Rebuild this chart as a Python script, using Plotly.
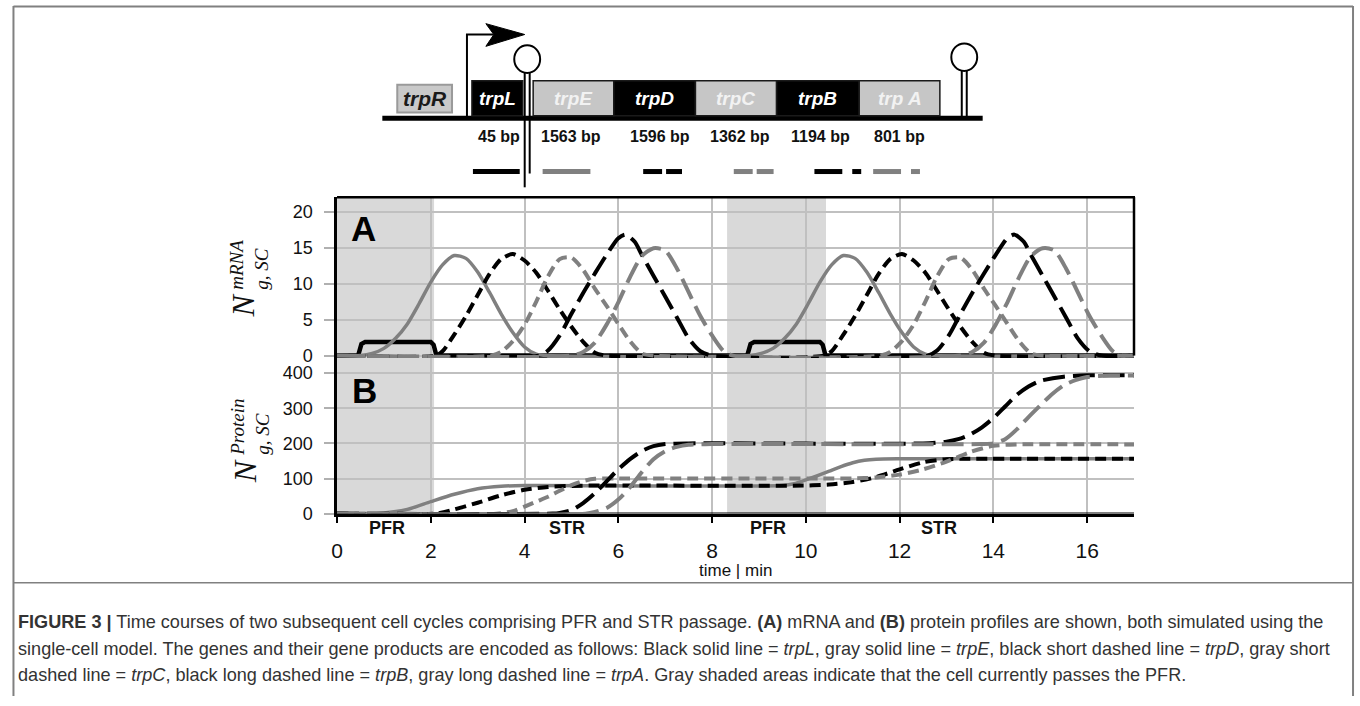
import plotly.graph_objects as go

W, H = 1360, 706
def fx(x): return x / W
def fy(y): return 1 - y / H

BLACK = "#000000"
GRAY = "#808080"
SHADE = "#d9d9d9"
GRID = "#c0c0c0"

# ---------------- data ----------------
# panel A: mRNA
trpL_A_t = [0, 0.45, 0.52, 0.6, 1.0, 1.5, 2.0, 2.06, 2.12, 8.75, 8.82, 8.9, 9.3, 9.8, 10.3, 10.36, 10.42, 17]
trpL_A_y = [0, 0, 1.6, 1.9, 1.9, 1.9, 1.9, 1.5, 0, 0, 1.6, 1.9, 1.9, 1.9, 1.9, 1.5, 0, 0]

trpE_A_t = [0, 0.5, 0.75, 1.0, 1.25, 1.5, 1.75, 2.0, 2.25, 2.5, 2.75, 3.0, 3.25, 3.5, 3.75, 4.0, 4.25, 4.5,
            8.8, 9.05, 9.3, 9.55, 9.8, 10.05, 10.3, 10.55, 10.8, 11.05, 11.3, 11.55, 11.8, 12.05, 12.3, 12.55, 12.8, 17]
trpE_A_y = [0, 0, 0.3, 1.0, 2.4, 4.4, 7.2, 10.2, 12.6, 13.9, 13.5, 11.6, 8.8, 5.8, 3.2, 1.2, 0.2, 0,
            0, 0.3, 1.0, 2.4, 4.4, 7.2, 10.2, 12.6, 13.9, 13.5, 11.6, 8.8, 5.8, 3.2, 1.2, 0.2, 0, 0]

trpD_A_t = [0, 2.1, 2.25, 2.5, 2.75, 3.0, 3.25, 3.5, 3.75, 4.0, 4.25, 4.5, 4.75, 5.0, 5.25, 5.5, 5.75,
            10.4, 10.55, 10.8, 11.05, 11.3, 11.55, 11.8, 12.05, 12.3, 12.55, 12.8, 13.05, 13.3, 13.55, 13.8, 14.05, 17]
trpD_A_y = [0, 0, 0.6, 2.9, 5.5, 8.4, 11.3, 13.4, 14.1, 13.2, 11.5, 9.0, 6.4, 4.0, 1.9, 0.4, 0,
            0, 0.6, 2.9, 5.5, 8.4, 11.3, 13.4, 14.1, 13.2, 11.5, 9.0, 6.4, 4.0, 1.9, 0.4, 0, 0]

trpC_A_t = [0, 3.3, 3.5, 3.75, 4.0, 4.25, 4.5, 4.75, 5.0, 5.25, 5.5, 5.75, 6.0, 6.25, 6.5, 6.75,
            11.6, 11.8, 12.05, 12.3, 12.55, 12.8, 13.05, 13.3, 13.55, 13.8, 14.05, 14.3, 14.55, 14.8, 15.05, 17]
trpC_A_y = [0, 0, 0.5, 2.0, 4.3, 7.5, 11.0, 13.4, 13.6, 11.9, 9.3, 6.9, 4.4, 2.0, 0.3, 0,
            0, 0.5, 2.0, 4.3, 7.5, 11.0, 13.4, 13.6, 11.9, 9.3, 6.9, 4.4, 2.0, 0.3, 0, 0]

trpB_A_t = [0, 4.3, 4.5, 4.75, 5.0, 5.25, 5.5, 5.75, 6.0, 6.15, 6.35, 6.5, 6.75, 7.0, 7.25, 7.5, 7.75, 8.0,
            12.6, 12.8, 13.05, 13.3, 13.55, 13.8, 14.05, 14.3, 14.45, 14.65, 14.8, 15.05, 15.3, 15.55, 15.8, 16.05, 16.3, 17]
trpB_A_y = [0, 0, 0.7, 2.8, 5.8, 8.7, 11.4, 14.0, 16.3, 16.8, 15.8, 14.0, 11.1, 8.2, 5.3, 2.4, 0.6, 0,
            0, 0.7, 2.8, 5.8, 8.7, 11.4, 14.0, 16.3, 16.8, 15.8, 14.0, 11.1, 8.2, 5.3, 2.4, 0.6, 0, 0]

trpA_A_t = [0, 5.0, 5.25, 5.5, 5.75, 6.0, 6.25, 6.5, 6.75, 7.0, 7.25, 7.5, 7.75, 8.0, 8.25, 8.45,
            13.3, 13.55, 13.8, 14.05, 14.3, 14.55, 14.8, 15.05, 15.3, 15.55, 15.8, 16.05, 16.3, 16.55, 16.75, 17]
trpA_A_y = [0, 0, 0.5, 1.8, 4.3, 7.4, 10.9, 13.8, 14.9, 14.6, 12.1, 8.8, 5.5, 2.8, 0.6, 0,
            0, 0.5, 1.8, 4.3, 7.4, 10.9, 13.8, 14.9, 14.6, 12.1, 8.8, 5.5, 2.8, 0.6, 0, 0]

# panel B: protein
trpL_B_t = [0, 17]
trpL_B_y = [0, 0]
trpE_B_t = [0, 0.5, 1.0, 1.5, 2.0, 2.5, 3.0, 3.5, 4.0, 9.5, 9.75, 10.0, 10.25, 10.5, 10.75, 11.0, 11.25, 11.5, 12.0, 17]
trpE_B_y = [0, 0, 2, 12, 34, 55, 71, 78, 80, 80, 85, 96, 108, 121, 134, 145, 152, 155, 156, 156]
trpD_B_t = [0, 2.1, 2.5, 3.0, 3.5, 4.0, 4.5, 5.0, 5.5, 10.0, 10.5, 11.0, 11.5, 12.0, 12.5, 13.0, 13.5, 17]
trpD_B_y = [0, 0, 12, 31, 52, 68, 76, 79, 80, 80, 83, 90, 104, 126, 146, 155, 156, 156]
trpC_B_t = [0, 3.4, 3.75, 4.0, 4.25, 4.5, 4.75, 5.0, 5.25, 5.5, 6.0, 10.5, 11.0, 11.5, 12.0, 12.5, 13.0, 13.5, 14.0, 14.5, 17]
trpC_B_y = [0, 0, 7, 20, 34, 48, 65, 81, 93, 99, 100, 100, 100, 103, 111, 126, 148, 175, 193, 197, 197]
trpB_B_t = [0, 4.6, 4.75, 5.0, 5.25, 5.5, 5.75, 6.0, 6.25, 6.5, 6.75, 7.0, 7.5, 12.5, 13.0, 13.25, 13.5, 13.75,
            14.0, 14.25, 14.5, 14.75, 15.0, 15.5, 16.0, 17]
trpB_B_y = [0, 0, 2, 10, 30, 58, 92, 126, 155, 178, 192, 198, 200, 200, 205, 212, 225, 245,
            272, 305, 338, 362, 378, 390, 394, 394]
trpA_B_t = [0, 5.3, 5.5, 5.75, 6.0, 6.25, 6.5, 6.75, 7.0, 7.25, 7.5, 8.0, 13.75, 14.0, 14.25, 14.5, 14.75,
            15.0, 15.25, 15.5, 15.75, 16.0, 16.5, 17]
trpA_B_y = [0, 0, 5, 16, 40, 75, 118, 155, 178, 190, 196, 198, 198, 200, 212, 240, 275,
            308, 340, 365, 380, 389, 393, 393]

pfr_start = [0, 8.32]
pfr_end = [2.07, 10.43]
phase_labels = ["PFR", "STR", "PFR", "STR"]
phase_label_t = [1.07, 4.9, 9.2, 12.84]

x_ticks = [0, 2, 4, 6, 8, 10, 12, 14, 16]
yA_ticks = [0, 5, 10, 15, 20]
yB_ticks = [0, 100, 200, 300, 400]

genes = ["trpL", "trpE", "trpD", "trpC", "trpB", "trp A"]
gene_bp = ["45 bp", "1563 bp", "1596 bp", "1362 bp", "1194 bp", "801 bp"]

# ---------------- layout geometry ----------------
X0P, X1P = 332.5, 1133
A_TOP, AB, B_BOT = 200, 360.7, 521
A_RANGE = [-0.35, 22]
A_BOT = AB + 0.35 * (AB - A_TOP) / 22

fig = go.Figure()

SOLID = "solid"
SHORT = "11px,6px"
LONG = "22px,8px"
series_A = [
    (trpL_A_t, trpL_A_y, BLACK, SOLID, 4.5, "linear"),
    (trpE_A_t, trpE_A_y, GRAY, SOLID, 3.5, "spline"),
    (trpD_A_t, trpD_A_y, BLACK, SHORT, 4, "spline"),
    (trpC_A_t, trpC_A_y, GRAY, SHORT, 4, "spline"),
    (trpB_A_t, trpB_A_y, BLACK, LONG, 4, "spline"),
    (trpA_A_t, trpA_A_y, GRAY, LONG, 4, "spline"),
]
series_B = [
    (trpL_B_t, trpL_B_y, BLACK, SOLID, 2, "linear"),
    (trpE_B_t, trpE_B_y, GRAY, SOLID, 3.5, "spline"),
    (trpD_B_t, trpD_B_y, BLACK, SHORT, 4, "spline"),
    (trpC_B_t, trpC_B_y, GRAY, SHORT, 4, "spline"),
    (trpB_B_t, trpB_B_y, BLACK, LONG, 4, "spline"),
    (trpA_B_t, trpA_B_y, GRAY, LONG, 4, "spline"),
]
for t, y, c, d, w, s in series_A:
    assert len(t) == len(y)
    fig.add_trace(go.Scatter(x=t, y=y, mode="lines", xaxis="x2", yaxis="y2",
                             line=dict(color=c, dash=d, width=w, shape=s, smoothing=0.7),
                             showlegend=False, hoverinfo="skip"))
for t, y, c, d, w, s in series_B:
    assert len(t) == len(y)
    fig.add_trace(go.Scatter(x=t, y=y, mode="lines", xaxis="x", yaxis="y",
                             line=dict(color=c, dash=d, width=w, shape=s, smoothing=0.7),
                             showlegend=False, hoverinfo="skip"))

tickfont_y = dict(family="Liberation Sans, Arial", size=18, color="#111")
tickfont_x = dict(family="Liberation Sans, Arial", size=21, color="#111")

fig.update_layout(
    width=W, height=H, margin=dict(l=0, r=0, t=0, b=0),
    paper_bgcolor="white", plot_bgcolor="rgba(0,0,0,0)",
    xaxis=dict(domain=[fx(X0P), fx(X1P)], range=[0, 17], anchor="y",
               tickvals=x_ticks, showgrid=True, gridcolor=GRID, gridwidth=2,
               showline=True, linecolor=BLACK, linewidth=2.5, ticks="outside",
               ticklen=7, tickwidth=1.5, tickcolor=BLACK, tickfont=tickfont_x,
               zeroline=False, ticklabelstandoff=9),
    xaxis2=dict(domain=[fx(X0P), fx(X1P)], range=[0, 17], anchor="y2", matches="x",
                tickvals=x_ticks, showgrid=True, gridcolor=GRID, gridwidth=2,
                showticklabels=False, showline=False, zeroline=False, ticks=""),
    yaxis=dict(domain=[fy(B_BOT), fy(AB)], range=[0, 450], anchor="x",
               tickvals=yB_ticks, showgrid=True, gridcolor=GRID, gridwidth=2,
               showline=True, linecolor=BLACK, linewidth=2.5, ticks="outside",
               ticklen=10, tickwidth=2, tickcolor="#b0b0b0", tickfont=tickfont_y,
               zeroline=False, ticklabelstandoff=8),
    yaxis2=dict(domain=[fy(A_BOT), fy(A_TOP)], range=A_RANGE, anchor="x2",
                tickvals=yA_ticks, showgrid=True, gridcolor=GRID, gridwidth=2,
                showline=True, linecolor=BLACK, linewidth=2.5, ticks="outside",
                ticklen=10, tickwidth=2, tickcolor="#b0b0b0", tickfont=tickfont_y,
                zeroline=False, ticklabelstandoff=8),
)

shapes = []
for s0, s1 in zip(pfr_start, pfr_end):
    for yr in ["y domain", "y2 domain"]:
        shapes.append(dict(type="rect", xref="x", yref=yr, x0=s0, x1=s1, y0=0, y1=1,
                           fillcolor=SHADE, line=dict(width=0), layer="below"))
# panel A frame (top & right)
shapes.append(dict(type="line", xref="paper", yref="paper", x0=fx(X0P), x1=fx(X1P + 1),
                   y0=fy(A_TOP), y1=fy(A_TOP), line=dict(color=BLACK, width=2.5)))
shapes.append(dict(type="line", xref="paper", yref="paper", x0=fx(X1P), x1=fx(X1P),
                   y0=fy(A_TOP), y1=fy(AB), line=dict(color=BLACK, width=2.5)))

# outer figure frame
FR = "#808080"
shapes += [
    dict(type="line", xref="paper", yref="paper", x0=fx(7.5), x1=fx(7.5), y0=fy(6), y1=fy(706), line=dict(color=FR, width=2)),
    dict(type="line", xref="paper", yref="paper", x0=fx(1353), x1=fx(1353), y0=fy(6), y1=fy(706), line=dict(color=FR, width=2)),
    dict(type="line", xref="paper", yref="paper", x0=fx(7.5), x1=fx(1353), y0=fy(6.5), y1=fy(6.5), line=dict(color=FR, width=2)),
    dict(type="line", xref="paper", yref="paper", x0=fx(7.5), x1=fx(1353), y0=fy(591), y1=fy(591), line=dict(color=FR, width=1.5)),
]

# ---------------- gene diagram ----------------
def rect(x0, x1, y0, y1, fill, lc, lw):
    return dict(type="rect", xref="paper", yref="paper", x0=fx(x0), x1=fx(x1), y0=fy(y1), y1=fy(y0),
                fillcolor=fill, line=dict(color=lc, width=lw))
def pline(x0, y0, x1, y1, c=BLACK, w=2):
    return dict(type="line", xref="paper", yref="paper", x0=fx(x0), x1=fx(x1), y0=fy(y0), y1=fy(y1),
                line=dict(color=c, width=w))

# baseline
shapes.append(pline(378, 120, 981, 120, BLACK, 5))
# trpR box
shapes.append(rect(393, 448, 86, 114, "#c9c9c9", "#9a9a9a", 2))
# promoter arrow
shapes.append(pline(463, 120, 463, 35, BLACK, 2))
shapes.append(pline(462, 35, 490, 35, BLACK, 2))
ah = [(482, 24), (521, 35), (482, 47), (490, 35)]
path = "M " + " L ".join(f"{fx(a)},{fy(b)}" for a, b in ah) + " Z"
shapes.append(dict(type="path", xref="paper", yref="paper", path=path, fillcolor=BLACK, line=dict(color=BLACK, width=1)))

box_x = [468, 519, 529.5, 610.5, 692.5, 774, 857, 938]
gene_fill = [BLACK, "#c6c6c6", BLACK, "#c6c6c6", BLACK, "#c6c6c6"]
gene_txt = ["white", "#f2f2f2", "white", "#f2f2f2", "white", "#f2f2f2"]
gx = [(box_x[0], box_x[1])] + [(box_x[i], box_x[i + 1]) for i in range(2, 7)]
for (a, b), f in zip(gx, gene_fill):
    shapes.append(rect(a, b, 82, 117.5, f, "#1a1a1a", 1.5))

# terminators
shapes.append(pline(521, 72, 521, 190, BLACK, 2))
shapes.append(pline(526, 72, 526, 176, BLACK, 2))
shapes.append(dict(type="circle", xref="paper", yref="paper", x0=fx(510.5), x1=fx(536.5), y0=fy(74), y1=fy(46),
                   fillcolor="white", line=dict(color=BLACK, width=2)))
shapes.append(pline(960, 70, 960, 119, BLACK, 2))
shapes.append(pline(965, 70, 965, 119, BLACK, 2))
shapes.append(dict(type="circle", xref="paper", yref="paper", x0=fx(949.5), x1=fx(975.5), y0=fy(72), y1=fy(44),
                   fillcolor="white", line=dict(color=BLACK, width=2)))

# line style key under the gene map
LW = 5
key = [
    (469, 516, BLACK), (539, 587, GRAY),
    (640, 659, BLACK), (663, 679, BLACK),
    (731, 750, GRAY), (754, 771, GRAY),
    (812, 840, BLACK), (850, 859, BLACK),
    (871, 899, GRAY), (909, 918, GRAY),
]
for a, b, c in key:
    shapes.append(pline(a, 174, b, 174, c, LW))

fig.update_layout(shapes=shapes)

# ---------------- annotations ----------------
ann = []
def text(x, y, s, size, color="#000", family="Liberation Sans, Arial", xa="center", ya="middle", **kw):
    ann.append(dict(xref="paper", yref="paper", x=fx(x), y=fy(y), text=s, showarrow=False,
                    font=dict(family=family, size=size, color=color), xanchor=xa, yanchor=ya, **kw))

text(420.5, 100, "<b><i>trpR</i></b>", 21, "#1a1a1a")
gene_cx = [493.5, 570, 651.5, 733, 815.5, 897.5]
for g, cx, c in zip(genes, gene_cx, gene_txt):
    text(cx, 99.5, f"<b><i>{g}</i></b>", 19, c)
bp_cx = [495.5, 568, 657, 737, 818, 897.5]
for b, cx in zip(gene_bp, bp_cx):
    text(cx, 138, f"<b>{b}</b>", 16, "#111")

text(359, 232, "<b>A</b>", 35)
text(360, 396, "<b>B</b>", 35)

for lab, t in zip(phase_labels, phase_label_t):
    ann.append(dict(xref="x", yref="paper", x=t, y=fy(536), text=f"<b>{lab}</b>", showarrow=False,
                    font=dict(family="Liberation Sans, Arial", size=18, color="#111"),
                    xanchor="center", yanchor="middle"))

text(733, 579, "time | min", 17, "#111")

SERIF = "Liberation Serif, Times New Roman, serif"
text(238, 310, "<i>N</i>", 32, "#111", SERIF, textangle=-90)
text(244, 296, "<i>mRNA</i><br><i>g, SC</i>", 19, "#111", SERIF, ya="bottom", textangle=-90, align="left")
text(240, 478, "<i>N</i>", 32, "#111", SERIF, textangle=-90)
text(245, 464, "<i>Protein</i><br><i>g, SC</i>", 19, "#111", SERIF, ya="bottom", textangle=-90, align="left")

cap = [
    "<b>FIGURE 3 |</b> Time courses of two subsequent cell cycles comprising PFR and STR passage. <b>(A)</b> mRNA and <b>(B)</b> protein profiles are shown, both simulated using the",
    "single-cell model. The genes and their gene products are encoded as follows: Black solid line = <i>trpL</i>, gray solid line = <i>trpE</i>, black short dashed line = <i>trpD</i>, gray short",
    "dashed line = <i>trpC</i>, black long dashed line = <i>trpB</i>, gray long dashed line = <i>trpA</i>. Gray shaded areas indicate that the cell currently passes the PFR.",
]
for i, line in enumerate(cap):
    text(10, 631 + 27 * i, line, 18.1, "#333", "Liberation Sans, Arial", xa="left")

fig.update_layout(annotations=ann)
fig.write_html("out.html")
